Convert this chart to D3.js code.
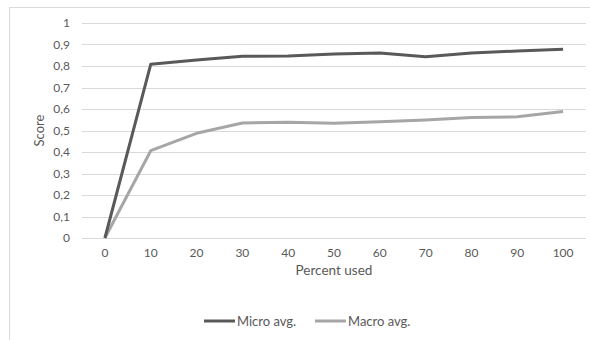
<!DOCTYPE html>
<html>
<head>
<meta charset="utf-8">
<script src="https://cdn.jsdelivr.net/npm/d3@7"></script>
<style>
  body { margin: 0; background: #fff; }
  svg text { font-family: Lato, "Open Sans", sans-serif; fill: #595959; }
</style>
</head>
<body>
<svg id="chart"></svg>
<script>
const categories = ['0', '10', '20', '30', '40', '50', '60', '70', '80', '90', '100'];
const microAvg = [0, 0.808, 0.828, 0.845, 0.847, 0.856, 0.860, 0.843, 0.860, 0.870, 0.878];
const macroAvg = [0, 0.406, 0.487, 0.535, 0.538, 0.534, 0.541, 0.549, 0.560, 0.564, 0.588];
const yTicks = [0, 0.1, 0.2, 0.3, 0.4, 0.5, 0.6, 0.7, 0.8, 0.9, 1];
const seriesNames = ['Micro avg.', 'Macro avg.'];
const seriesColors = ['#595959', '#a6a6a6'];

const width = 590, height = 340;
const margin = {top: 23, right: 4, bottom: 102, left: 82};

const svg = d3.select('#chart')
    .attr('width', width)
    .attr('height', height);

// chart frame (only top and left edges are visible in the crop)
svg.append('path')
    .attr('d', `M9.5,${height} V7.5 H${width}`)
    .attr('fill', 'none')
    .attr('stroke', '#d9d9d9')
    .attr('stroke-width', 1);

const x = d3.scaleBand()
    .domain(categories)
    .range([margin.left, width - margin.right]);

const y = d3.scaleLinear()
    .domain([0, 1])
    .range([height - margin.bottom, margin.top]);

// gridlines
svg.append('g')
    .selectAll('line')
    .data(yTicks)
    .join('line')
    .attr('x1', margin.left)
    .attr('x2', width - margin.right)
    .attr('y1', d => Math.round(y(d)) + 0.5)
    .attr('y2', d => Math.round(y(d)) + 0.5)
    .attr('stroke', '#d9d9d9')
    .attr('stroke-width', 1);

// y axis labels
const yAxis = svg.append('g')
    .attr('transform', `translate(${margin.left},0)`)
    .call(d3.axisLeft(y).tickValues(yTicks).tickSize(0).tickPadding(12)
        .tickFormat(d => String(d).replace('.', ',')));
yAxis.select('.domain').remove();
yAxis.selectAll('text').style('font-size', '12px');

// x axis labels
const xAxis = svg.append('g')
    .attr('transform', `translate(0,${height - margin.bottom})`)
    .call(d3.axisBottom(x).tickSize(0).tickPadding(10));
xAxis.select('.domain').remove();
xAxis.selectAll('text').style('font-size', '12px');

// axis titles
svg.append('text')
    .attr('transform', `translate(44,${(y(0) + y(1)) / 2}) rotate(-90)`)
    .attr('text-anchor', 'middle')
    .style('font-size', '13px')
    .text('Score');

svg.append('text')
    .attr('x', (margin.left + width - margin.right) / 2)
    .attr('y', 275)
    .attr('text-anchor', 'middle')
    .style('font-size', '13.5px')
    .text('Percent used');

// lines
const line = d3.line()
    .x((d, i) => x(categories[i]) + x.bandwidth() / 2)
    .y(d => y(d));

[macroAvg, microAvg].forEach((vals, k) => {
    svg.append('path')
        .datum(vals)
        .attr('d', line)
        .attr('fill', 'none')
        .attr('stroke', seriesColors[1 - k])
        .attr('stroke-width', 3)
        .attr('stroke-linejoin', 'round');
});

// legend
const legendX = [204, 315];
const legend = svg.append('g');
seriesNames.forEach((name, i) => {
    legend.append('line')
        .attr('x1', legendX[i])
        .attr('x2', legendX[i] + 31)
        .attr('y1', 321)
        .attr('y2', 321)
        .attr('stroke', seriesColors[i])
        .attr('stroke-width', 3);
    legend.append('text')
        .attr('x', legendX[i] + 33)
        .attr('y', 325.5)
        .style('font-size', '13px')
        .text(name);
});
</script>
</body>
</html>
